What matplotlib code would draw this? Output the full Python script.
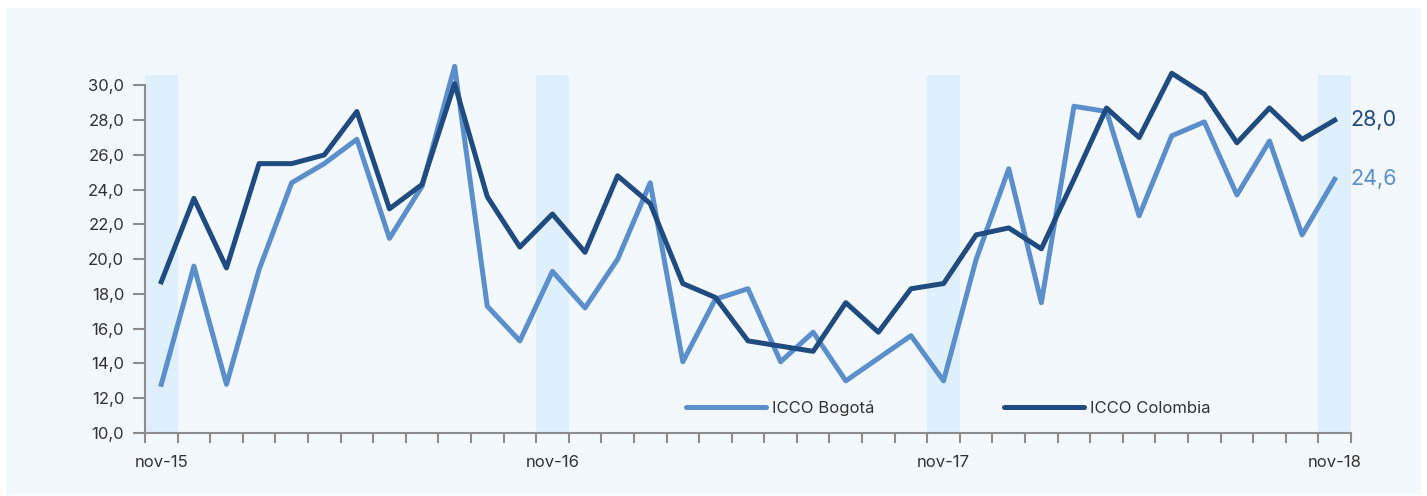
import matplotlib.pyplot as plt
import numpy as np
from matplotlib.patches import Rectangle

months = ["nov", "dic", "ene", "feb", "mar", "abr", "may", "jun", "jul", "ago", "sep", "oct"]
years = [15, 16, 17, 18]
categories = []
for k in range(37):
    categories.append(f"{months[k % 12]}-{years[0] + (k + 2) // 12}")

bogota = [12.8, 19.6, 12.8, 19.4, 24.4, 25.5, 26.9, 21.2, 24.2, 31.1,
          17.3, 15.3, 19.3, 17.2, 20.0, 24.4, 14.1, 17.7, 18.3, 14.1,
          15.8, 13.0, 14.3, 15.6, 13.0, 20.0, 25.2, 17.5, 28.8, 28.5,
          22.5, 27.1, 27.9, 23.7, 26.8, 21.4, 24.6]
colombia = [18.7, 23.5, 19.5, 25.5, 25.5, 26.0, 28.5, 22.9, 24.3, 30.1,
            23.6, 20.7, 22.6, 20.4, 24.8, 23.2, 18.6, 17.8, 15.3, 15.0,
            14.7, 17.5, 15.8, 18.3, 18.6, 21.4, 21.8, 20.6, 24.6, 28.7,
            27.0, 30.7, 29.5, 26.7, 28.7, 26.9, 28.0]
highlight_idx = [0, 12, 24, 36]
label_idx = [0, 12, 24, 36]

c_light = "#5B8FCB"
c_dark = "#1F4B80"
bg = "#F3F8FD"
band = "#DFF0FC"
txt = "#333333"

plt.rcParams['font.family'] = ['Inter', 'DejaVu Sans']

fig = plt.figure(figsize=(14.27, 4.96), dpi=100)
fig.patch.set_facecolor("white")
panel = Rectangle((6 / 1427, 1 / 496), (1421 - 6) / 1427, (488 - 1) / 496,
                  transform=fig.transFigure, facecolor=bg, edgecolor="none", zorder=-10)
fig.add_artist(panel)

ax = fig.add_axes([145 / 1427, (496 - 433) / 496, (1351 - 145) / 1427, (433 - 75) / 496])
ax.set_facecolor("none")
ax.set_zorder(5)

x = np.arange(len(categories))
for i in highlight_idx:
    ax.axvspan(i - 0.5, i + 0.5, color=band, zorder=1, lw=0)

ax.plot(x, bogota, color=c_light, lw=3.6, zorder=3, label="ICCO Bogotá",
        solid_joinstyle="round", clip_on=False)
ax.plot(x, colombia, color=c_dark, lw=3.6, zorder=4, label="ICCO Colombia",
        solid_joinstyle="round", clip_on=False)

ax.set_xlim(-0.5, len(categories) - 0.5)
ax.set_ylim(10, 30.6)

ax.set_yticks(np.arange(10, 30.1, 2))
ax.set_yticklabels([f"{v:.1f}".replace(".", ",") for v in np.arange(10, 30.1, 2)],
                   fontsize=12, color=txt)
ax.set_xticks(label_idx)
ax.set_xticklabels([categories[i] for i in label_idx], fontsize=12, color=txt)
ax.set_xticks(np.arange(-0.5, len(categories), 1), minor=True)
ax.tick_params(axis="x", which="major", length=0, pad=16)
ax.tick_params(axis="x", which="minor", length=7, width=1.5, color="#8C8C8C", direction="out")
ax.tick_params(axis="y", length=9, width=1.5, color="#8C8C8C", pad=6)

for s in ["top", "right"]:
    ax.spines[s].set_visible(False)
for s in ["left", "bottom"]:
    ax.spines[s].set_color("#8C8C8C")
    ax.spines[s].set_linewidth(1.5)
ax.spines["left"].set_bounds(10, 30)

ax.annotate(f"{colombia[-1]:.1f}".replace(".", ","), xy=(x[-1], colombia[-1]),
            xytext=(11, 0), textcoords="offset points", va="center", ha="left",
            fontsize=15.5, color=c_dark)
ax.annotate(f"{bogota[-1]:.1f}".replace(".", ","), xy=(x[-1], bogota[-1]),
            xytext=(11, 0), textcoords="offset points", va="center", ha="left",
            fontsize=15.5, color=c_light)

leg = ax.legend(loc="center left", bbox_to_anchor=((686 - 145) / 1206, (433 - 408) / 358),
                ncol=2, frameon=False, fontsize=12, handlelength=4.8, handletextpad=0.35,
                columnspacing=7.8, borderpad=0, borderaxespad=0)
for t in leg.get_texts():
    t.set_color(txt)
for h in leg.get_lines():
    h.set_solid_capstyle("round")

fig.savefig("out.png", dpi=100, facecolor=fig.get_facecolor())
